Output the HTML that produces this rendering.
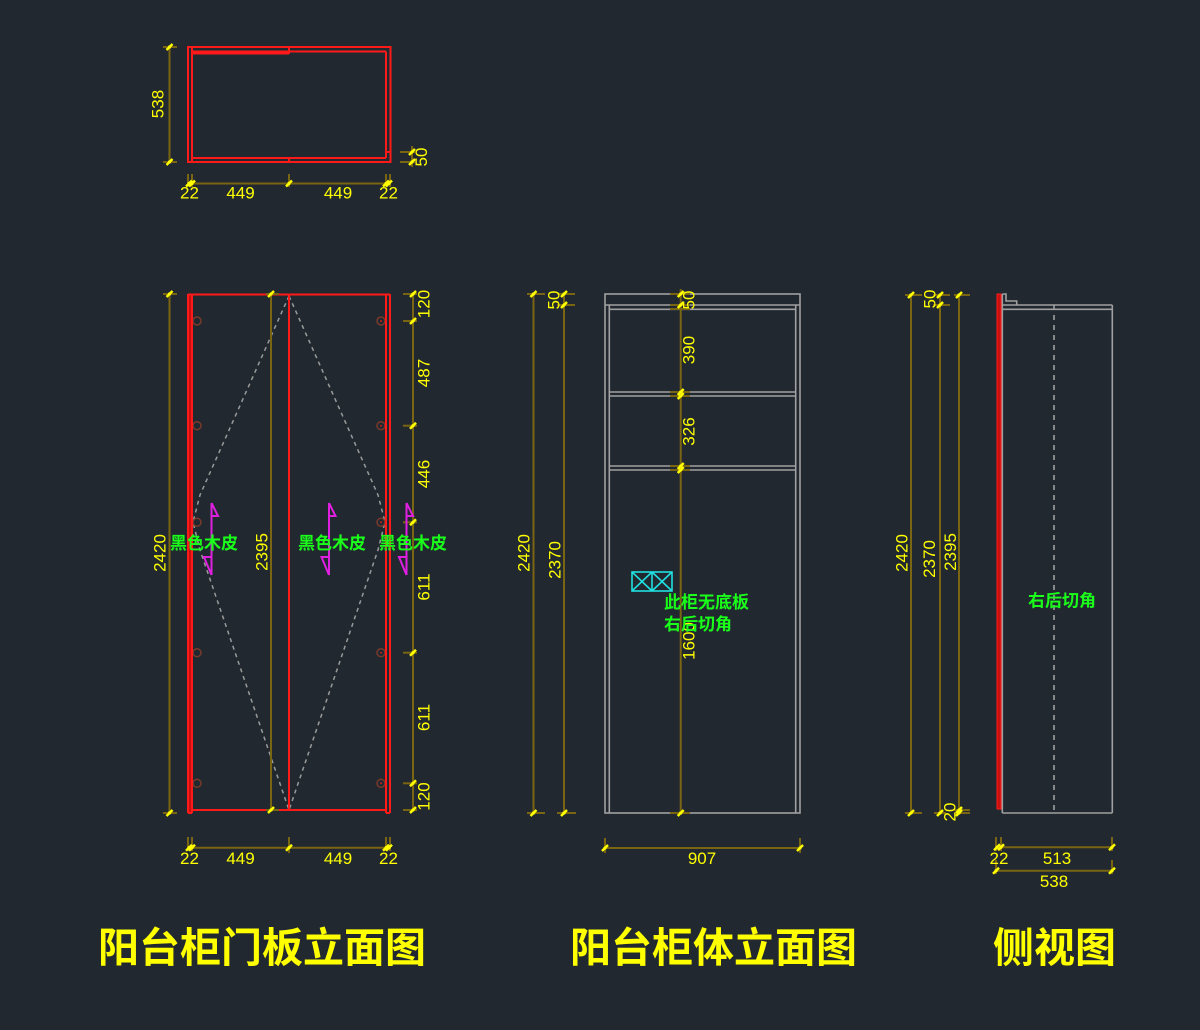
<!DOCTYPE html>
<html><head><meta charset="utf-8"><style>
html,body{margin:0;padding:0;background:#212830;}
svg{display:block}
.d{font-family:"Liberation Sans",sans-serif;font-size:17px;fill:#ffff00;}
.g{font-family:"Liberation Sans","Noto Sans CJK SC",sans-serif;font-size:17px;fill:#1aff1a;font-weight:bold;}
.t{font-family:"Liberation Sans","Noto Sans CJK SC",sans-serif;font-size:41px;fill:#ffff00;font-weight:bold;}
</style></head><body>
<svg width="1200" height="1030" viewBox="0 0 1200 1030" xmlns="http://www.w3.org/2000/svg">
<defs>
<g id="k"><path d="M-3,3 L3,-3" stroke="#ffff00" stroke-width="2.5"/><circle r="1.6" fill="#ffff00"/></g>
</defs>
<rect width="1200" height="1030" fill="#212830"/>

<!-- ===== TOP PLAN ===== -->
<g stroke="#ff1a1a" stroke-width="2" fill="none">
<rect x="188" y="47" width="202.5" height="115"/>
<line x1="192" y1="47" x2="192" y2="162"/>
<line x1="386" y1="51.5" x2="386" y2="158"/>
<line x1="192" y1="51.5" x2="386" y2="51.5"/>
<line x1="192" y1="53.5" x2="289" y2="53.5"/>
<line x1="192" y1="158" x2="386" y2="158"/>
<line x1="386" y1="152" x2="390" y2="152"/>
<line x1="289" y1="47" x2="289" y2="54"/>
<line x1="289" y1="158" x2="289" y2="162"/>
</g>
<g stroke="#7a6512" stroke-width="2">
<line x1="169.5" y1="47" x2="169.5" y2="162"/>
<line x1="163" y1="47" x2="177" y2="47"/>
<line x1="163" y1="162" x2="177" y2="162"/>
<line x1="188" y1="183.5" x2="391" y2="183.5"/>
<line x1="188" y1="174" x2="188" y2="187"/>
<line x1="192" y1="174" x2="192" y2="187"/>
<line x1="289" y1="174" x2="289" y2="187"/>
<line x1="386" y1="174" x2="386" y2="187"/>
<line x1="390" y1="174" x2="390" y2="187"/>
<line x1="400" y1="152" x2="415" y2="152"/>
<line x1="400" y1="162" x2="415" y2="162"/>
<line x1="412" y1="146" x2="412" y2="167"/>
</g>
<use href="#k" x="169.5" y="47"/><use href="#k" x="169.5" y="162"/>
<use href="#k" x="189" y="183.5"/><use href="#k" x="192" y="183.5"/><use href="#k" x="289" y="183.5"/><use href="#k" x="386" y="183.5"/><use href="#k" x="389" y="183.5"/>
<use href="#k" x="412" y="152"/><use href="#k" x="412" y="162"/>
<text class="d" x="158" y="104" text-anchor="middle" dominant-baseline="central" transform="rotate(-90 158 104)">538</text>
<text class="d" x="421.5" y="157" text-anchor="middle" dominant-baseline="central" transform="rotate(-90 421.5 157)">50</text>
<text class="d" x="189.5" y="193" text-anchor="middle" dominant-baseline="central">22</text>
<text class="d" x="240.5" y="193" text-anchor="middle" dominant-baseline="central">449</text>
<text class="d" x="338" y="193" text-anchor="middle" dominant-baseline="central">449</text>
<text class="d" x="388.5" y="193" text-anchor="middle" dominant-baseline="central">22</text>

<!-- ===== DOOR ELEVATION ===== -->
<!-- dashed swing lines -->
<g stroke="#9a9a9a" stroke-width="1.5" stroke-dasharray="4,4" fill="none">
<polyline points="289,296 200,495 193,522 200,550 289,810"/>
<polyline points="289,296 378,495 385,522 378,550 289,810"/>
</g>
<!-- hinges -->
<g stroke="#7a3a2a" stroke-width="1.5" fill="none">
<circle cx="197" cy="321" r="4"/><circle cx="197" cy="425.7" r="4"/><circle cx="197" cy="522.3" r="4"/><circle cx="197" cy="652.7" r="4"/><circle cx="197" cy="783.3" r="4"/>
<circle cx="381" cy="321" r="4"/><circle cx="381" cy="425.7" r="4"/><circle cx="381" cy="522.3" r="4"/><circle cx="381" cy="652.7" r="4"/><circle cx="381" cy="783.3" r="4"/>
</g>
<g fill="#c02020">
<circle cx="381" cy="321" r="1"/><circle cx="381" cy="425.7" r="1"/><circle cx="381" cy="522.3" r="1"/><circle cx="381" cy="652.7" r="1"/><circle cx="381" cy="783.3" r="1"/>
</g>
<rect x="188" y="294" width="4.5" height="519" fill="#c81010"/>
<g stroke="#ff1a1a" stroke-width="2" fill="none">
<line x1="188" y1="294" x2="188" y2="813"/>
<line x1="192" y1="294" x2="192" y2="813"/>
<line x1="386" y1="294" x2="386" y2="813"/>
<line x1="390" y1="294" x2="390" y2="813"/>
<line x1="188" y1="813" x2="192" y2="813"/>
<line x1="386" y1="813" x2="390" y2="813"/>
<line x1="188" y1="294.5" x2="390" y2="294.5"/>
<line x1="192" y1="810" x2="386" y2="810"/>
<line x1="289" y1="294" x2="289" y2="810"/>
</g>
<!-- dims -->
<g stroke="#7a6512" stroke-width="2">
<line x1="169.5" y1="294" x2="169.5" y2="813"/>
<line x1="163" y1="294" x2="177" y2="294"/>
<line x1="163" y1="813" x2="177" y2="813"/>
<line x1="271" y1="294" x2="271" y2="810"/>
<line x1="266" y1="294" x2="279" y2="294"/>
<line x1="266" y1="810" x2="279" y2="810"/>
<line x1="413" y1="294" x2="413" y2="810"/>
<line x1="403" y1="294" x2="417" y2="294"/>
<line x1="403" y1="321" x2="417" y2="321"/>
<line x1="403" y1="425.7" x2="417" y2="425.7"/>
<line x1="403" y1="522.3" x2="417" y2="522.3"/>
<line x1="403" y1="652.7" x2="417" y2="652.7"/>
<line x1="403" y1="783.3" x2="417" y2="783.3"/>
<line x1="403" y1="810" x2="417" y2="810"/>
<line x1="188" y1="847.7" x2="391" y2="847.7"/>
<line x1="188" y1="837" x2="188" y2="851"/>
<line x1="192" y1="837" x2="192" y2="851"/>
<line x1="289" y1="837" x2="289" y2="853"/>
<line x1="386" y1="837" x2="386" y2="851"/>
<line x1="390" y1="837" x2="390" y2="851"/>
</g>
<use href="#k" x="169.5" y="294"/><use href="#k" x="169.5" y="813"/>
<use href="#k" x="271" y="294"/><use href="#k" x="271" y="810"/>
<use href="#k" x="413" y="294"/><use href="#k" x="413" y="321"/><use href="#k" x="413" y="425.7"/><use href="#k" x="413" y="522.3"/><use href="#k" x="413" y="652.7"/><use href="#k" x="413" y="783.3"/><use href="#k" x="413" y="810"/>
<use href="#k" x="189" y="847.7"/><use href="#k" x="192" y="847.7"/><use href="#k" x="289" y="847.7"/><use href="#k" x="386" y="847.7"/><use href="#k" x="389" y="847.7"/>
<text class="d" x="160" y="553" text-anchor="middle" dominant-baseline="central" transform="rotate(-90 160 553)">2420</text>
<text class="d" x="262" y="552" text-anchor="middle" dominant-baseline="central" transform="rotate(-90 262 552)">2395</text>
<text class="d" x="424" y="304" text-anchor="middle" dominant-baseline="central" transform="rotate(-90 424 304)">120</text>
<text class="d" x="424" y="373" text-anchor="middle" dominant-baseline="central" transform="rotate(-90 424 373)">487</text>
<text class="d" x="424" y="474" text-anchor="middle" dominant-baseline="central" transform="rotate(-90 424 474)">446</text>
<text class="d" x="424" y="587" text-anchor="middle" dominant-baseline="central" transform="rotate(-90 424 587)">611</text>
<text class="d" x="424" y="717.5" text-anchor="middle" dominant-baseline="central" transform="rotate(-90 424 717.5)">611</text>
<text class="d" x="424" y="796.5" text-anchor="middle" dominant-baseline="central" transform="rotate(-90 424 796.5)">120</text>
<text class="d" x="189.5" y="858.5" text-anchor="middle" dominant-baseline="central">22</text>
<text class="d" x="240.5" y="858.5" text-anchor="middle" dominant-baseline="central">449</text>
<text class="d" x="338" y="858.5" text-anchor="middle" dominant-baseline="central">449</text>
<text class="d" x="388.5" y="858.5" text-anchor="middle" dominant-baseline="central">22</text>
<!-- grain arrows -->
<g stroke="#e020e0" stroke-width="2" fill="none">
<path d="M211.5,503 L211.5,575 M211.5,503 L218,516 L211.5,516 M211.5,575 L204,557 L211.5,557"/>
<path d="M329,503 L329,575 M329,503 L335.5,516 L329,516 M329,575 L321.5,557 L329,557"/>
<path d="M406.5,503 L406.5,575 M406.5,503 L413,516 L406.5,516 M406.5,575 L399,557 L406.5,557"/>
</g>
<text class="g" x="170" y="543.5" dominant-baseline="central">黑色木皮</text>
<text class="g" x="298" y="543.5" dominant-baseline="central">黑色木皮</text>
<text class="g" x="379" y="543.5" dominant-baseline="central">黑色木皮</text>

<!-- ===== CABINET BODY ===== -->
<g stroke="#a0a0a0" stroke-width="1.6" fill="none">
<rect x="605" y="294" width="195" height="519"/>
<line x1="605" y1="305" x2="800" y2="305"/>
<line x1="609.3" y1="305" x2="609.3" y2="813"/>
<line x1="795.7" y1="305" x2="795.7" y2="813"/>
<line x1="609.3" y1="309.3" x2="795.7" y2="309.3"/>
<line x1="609.3" y1="392" x2="795.7" y2="392"/>
<line x1="609.3" y1="396" x2="795.7" y2="396"/>
<line x1="609.3" y1="466" x2="795.7" y2="466"/>
<line x1="609.3" y1="470" x2="795.7" y2="470"/>
</g>
<g stroke="#7a6512" stroke-width="2">
<line x1="533.5" y1="294" x2="533.5" y2="813"/>
<line x1="527" y1="294" x2="545" y2="294"/>
<line x1="527" y1="813" x2="545" y2="813"/>
<line x1="564" y1="294" x2="564" y2="813"/>
<line x1="557" y1="294" x2="575" y2="294"/>
<line x1="557" y1="305" x2="575" y2="305"/>
<line x1="557" y1="813" x2="576" y2="813"/>
<line x1="680.7" y1="289" x2="680.7" y2="813"/>
<line x1="670" y1="294" x2="690" y2="294"/>
<line x1="670" y1="305" x2="690" y2="305"/>
<line x1="670" y1="309" x2="690" y2="309"/>
<line x1="670" y1="392" x2="690" y2="392"/>
<line x1="670" y1="396" x2="690" y2="396"/>
<line x1="670" y1="466" x2="690" y2="466"/>
<line x1="670" y1="470" x2="690" y2="470"/>
<line x1="670" y1="813" x2="690" y2="813"/>
<line x1="605" y1="848" x2="800" y2="848"/>
<line x1="605" y1="838" x2="605" y2="853"/>
<line x1="800" y1="838" x2="800" y2="853"/>
</g>
<use href="#k" x="533.5" y="294"/><use href="#k" x="533.5" y="813"/>
<use href="#k" x="564" y="294"/><use href="#k" x="564" y="305"/><use href="#k" x="564" y="813"/>
<use href="#k" x="680.7" y="294"/><use href="#k" x="680.7" y="305"/><use href="#k" x="680.7" y="392"/><use href="#k" x="680.7" y="396"/><use href="#k" x="680.7" y="466"/><use href="#k" x="680.7" y="470"/><use href="#k" x="680.7" y="813"/>
<use href="#k" x="605" y="848"/><use href="#k" x="800" y="848"/>
<text class="d" x="524" y="553" text-anchor="middle" dominant-baseline="central" transform="rotate(-90 524 553)">2420</text>
<text class="d" x="555" y="560" text-anchor="middle" dominant-baseline="central" transform="rotate(-90 555 560)">2370</text>
<text class="d" x="554" y="300" text-anchor="middle" dominant-baseline="central" transform="rotate(-90 554 300)">50</text>
<text class="d" x="689" y="300" text-anchor="middle" dominant-baseline="central" transform="rotate(-90 689 300)">50</text>
<text class="d" x="689" y="350" text-anchor="middle" dominant-baseline="central" transform="rotate(-90 689 350)">390</text>
<text class="d" x="689" y="431.5" text-anchor="middle" dominant-baseline="central" transform="rotate(-90 689 431.5)">326</text>
<text class="d" x="689" y="641" text-anchor="middle" dominant-baseline="central" transform="rotate(-90 689 641)">1600</text>
<text class="d" x="702" y="858.5" text-anchor="middle" dominant-baseline="central">907</text>
<g stroke="#20e0e0" stroke-width="1.6" fill="none">
<rect x="632" y="572" width="40" height="19"/>
<line x1="652" y1="572" x2="652" y2="591"/>
<path d="M632,572 L652,591 M652,572 L632,591 M652,572 L672,591 M672,572 L652,591"/>
</g>
<text class="g" x="664" y="602.5" dominant-baseline="central">此柜无底板</text>
<text class="g" x="664" y="624.5" dominant-baseline="central">右后切角</text>

<!-- ===== SIDE VIEW ===== -->
<rect x="997" y="294" width="4" height="515" fill="#c81010" stroke="#ff1a1a" stroke-width="1"/>
<g stroke="#a0a0a0" stroke-width="1.6" fill="none">
<path d="M1002.3,294 H1006 V301 H1016.7 V305"/>
<line x1="1002.3" y1="294" x2="1002.3" y2="813"/>
<line x1="1002.3" y1="305" x2="1112.3" y2="305"/>
<line x1="1002.3" y1="309.3" x2="1112.3" y2="309.3"/>
<line x1="1112.3" y1="305" x2="1112.3" y2="813"/>
<line x1="1002.3" y1="813" x2="1112.3" y2="813"/>
<line x1="1054" y1="305" x2="1054" y2="813" stroke-dasharray="5,5"/>
</g>
<g stroke="#7a6512" stroke-width="2">
<line x1="911" y1="295" x2="911" y2="813"/>
<line x1="905" y1="295" x2="922" y2="295"/>
<line x1="905" y1="813" x2="922" y2="813"/>
<line x1="940" y1="295" x2="940" y2="813"/>
<line x1="933" y1="295" x2="950" y2="295"/>
<line x1="933" y1="305" x2="950" y2="305"/>
<line x1="934" y1="813" x2="946" y2="813"/>
<line x1="959" y1="295" x2="959" y2="813"/>
<line x1="954" y1="295" x2="970" y2="295"/>
<line x1="954" y1="810" x2="970" y2="810"/>
<line x1="954" y1="813" x2="970" y2="813"/>
<line x1="996" y1="847.3" x2="1112" y2="847.3"/>
<line x1="996" y1="837" x2="996" y2="851"/>
<line x1="1001" y1="837" x2="1001" y2="851"/>
<line x1="1112" y1="837" x2="1112" y2="851"/>
<line x1="996" y1="870.7" x2="1112" y2="870.7"/>
<line x1="996" y1="860" x2="996" y2="874"/>
<line x1="1112" y1="860" x2="1112" y2="874"/>
</g>
<use href="#k" x="911" y="295"/><use href="#k" x="911" y="813"/>
<use href="#k" x="940" y="295"/><use href="#k" x="940" y="305"/><use href="#k" x="940" y="813"/>
<use href="#k" x="959" y="295"/><use href="#k" x="959" y="810"/><use href="#k" x="959" y="813"/>
<use href="#k" x="997" y="847.3"/><use href="#k" x="1001" y="847.3"/><use href="#k" x="1112" y="847.3"/>
<use href="#k" x="996" y="870.7"/><use href="#k" x="1112" y="870.7"/>
<text class="d" x="930" y="299" text-anchor="middle" dominant-baseline="central" transform="rotate(-90 930 299)">50</text>
<text class="d" x="902" y="553" text-anchor="middle" dominant-baseline="central" transform="rotate(-90 902 553)">2420</text>
<text class="d" x="929.5" y="559" text-anchor="middle" dominant-baseline="central" transform="rotate(-90 929.5 559)">2370</text>
<text class="d" x="950.5" y="552" text-anchor="middle" dominant-baseline="central" transform="rotate(-90 950.5 552)">2395</text>
<text class="d" x="950" y="812" text-anchor="middle" dominant-baseline="central" transform="rotate(-90 950 812)">20</text>
<text class="d" x="999" y="858.5" text-anchor="middle" dominant-baseline="central">22</text>
<text class="d" x="1057" y="858.5" text-anchor="middle" dominant-baseline="central">513</text>
<text class="d" x="1054" y="881.5" text-anchor="middle" dominant-baseline="central">538</text>
<text class="g" x="1028" y="601" dominant-baseline="central">右后切角</text>

<!-- ===== TITLES ===== -->
<text class="t" x="98" y="948" dominant-baseline="central">阳台柜门板立面图</text>
<text class="t" x="570" y="948" dominant-baseline="central">阳台柜体立面图</text>
<text class="t" x="993" y="948" dominant-baseline="central">侧视图</text>
</svg>
</body></html>
